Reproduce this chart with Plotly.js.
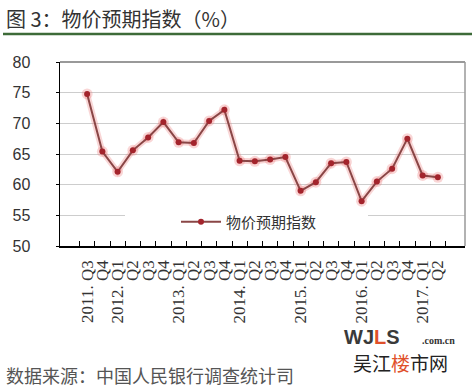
<!DOCTYPE html>
<html>
<head>
<meta charset="utf-8">
<script src="https://cdn.plot.ly/plotly-3.0.1.min.js"></script>
<style>
html,body{margin:0;padding:0;background:#fff;}
#chart{width:472px;height:388px;}
</style>
</head>
<body>
<div id="chart"></div>
<script>
// ---- data ----
const periods = ["2011Q3","2011Q4","2012Q1","2012Q2","2012Q3","2012Q4","2013Q1","2013Q2","2013Q3","2013Q4",
                 "2014Q1","2014Q2","2014Q3","2014Q4","2015Q1","2015Q2","2015Q3","2015Q4","2016Q1","2016Q2",
                 "2016Q3","2016Q4","2017Q1","2017Q2"];
const tickLabels = ["2011. Q3","Q4","2012. Q1","Q2","Q3","Q4","2013. Q1","Q2","Q3","Q4",
                    "2014. Q1","Q2","Q3","Q4","2015. Q1","Q2","Q3","Q4","2016. Q1","Q2",
                    "Q3","Q4","2017. Q1","Q2"];
const priceExpectation = [74.8,65.4,62.1,65.6,67.7,70.2,66.9,66.8,70.4,72.2,
                          63.9,63.8,64.1,64.5,59.0,60.4,63.5,63.7,57.3,60.5,
                          62.6,67.5,61.5,61.2];
const seriesName = "物价预期指数";
const titleText = "图 3：物价预期指数（%）";
const sourceText = "数据来源：中国人民银行调查统计司";

// ---- layout helpers (pixel -> paper) ----
const M = {l:60, r:7, t:62, b:142};
const W = 472, H = 388;
const PW = W - M.l - M.r, PH = H - M.t - M.b;
const px = x => (x - M.l) / PW;
const py = y => (H - M.b - y) / PH;

const glow = {
  x: periods, y: priceExpectation, type: 'scatter', mode: 'lines+markers',
  line: {color: 'rgba(235,120,120,0.30)', width: 6},
  marker: {color: 'rgba(235,120,120,0.30)', size: 11},
  showlegend: false, hoverinfo: 'skip'
};
const main = {
  x: periods, y: priceExpectation, type: 'scatter', mode: 'lines+markers',
  name: seriesName,
  line: {color: '#8a4646', width: 2},
  marker: {color: '#a3242c', size: 6}
};

const layout = {
  width: W, height: H,
  margin: M,
  paper_bgcolor: '#fff', plot_bgcolor: '#fff',
  showlegend: true,
  legend: {
    x: px(176), xanchor: 'left', y: py(222), yanchor: 'middle',
    bgcolor: 'rgba(0,0,0,0)', borderwidth: 0, itemwidth: 40,
    font: {family: '"Noto Sans CJK SC", sans-serif', size: 15, color: '#333'}
  },
  xaxis: {
    type: 'category',
    tickmode: 'array', tickvals: periods, ticktext: tickLabels,
    tickson: 'boundaries',
    ticks: 'inside', ticklen: 5, tickcolor: '#000', tickwidth: 1,
    showline: true, linecolor: '#000', linewidth: 1.5,
    showgrid: false, zeroline: false,
    tickangle: -90,
    tickfont: {family: '"Liberation Serif", serif', size: 17, color: '#333'},
    ticklabelstandoff: 6,
    fixedrange: true
  },
  yaxis: {
    range: [50, 80], dtick: 5, tick0: 50,
    ticks: 'outside', ticklen: 3, tickcolor: '#000',
    showline: true, linecolor: '#000', linewidth: 1.5,
    showgrid: true, gridcolor: '#cdcdcd', gridwidth: 1,
    zeroline: false,
    tickfont: {family: '"Liberation Sans", Arial, sans-serif', size: 16, color: '#333'},
    ticklabelstandoff: 22,
    fixedrange: true
  },
  shapes: [
    {type: 'rect', xref: 'paper', yref: 'paper', x0: px(125), x1: px(368), y0: py(232), y1: py(211),
     fillcolor: '#fff', line: {width: 0}, layer: 'above'},
    {type: 'line', xref: 'paper', yref: 'paper', x0: 0, x1: 1, y0: 1, y1: 1,
     line: {color: '#777', width: 1.5}},
    {type: 'line', xref: 'paper', yref: 'paper', x0: 1, x1: 1, y0: 0, y1: 1,
     line: {color: '#999', width: 1.5}},
    {type: 'line', xref: 'paper', yref: 'paper', x0: px(3), x1: px(472), y0: py(34), y1: py(34),
     line: {color: '#3d6b38', width: 2.5}}
  ],
  annotations: [
    {text: titleText, xref: 'paper', yref: 'paper', x: px(4), y: py(18), xanchor: 'left', yanchor: 'middle',
     showarrow: false, font: {family: '"Noto Sans CJK SC", sans-serif', size: 20, color: '#333'}},
    {text: sourceText, xref: 'paper', yref: 'paper', x: px(4), y: py(375), xanchor: 'left', yanchor: 'middle',
     showarrow: false, font: {family: '"Noto Sans CJK SC", sans-serif', size: 18, color: '#555'}},
    {text: '<b>WJ<span style="color:#e0502a">L</span>S</b>', xref: 'paper', yref: 'paper', x: px(342), y: py(337),
     xanchor: 'left', yanchor: 'middle', showarrow: false,
     font: {family: '"Liberation Sans", Arial, sans-serif', size: 20, color: '#3a3a3a'}},
    {text: '<b>.com.cn</b>', xref: 'paper', yref: 'paper', x: px(420), y: py(340),
     xanchor: 'left', yanchor: 'middle', showarrow: false,
     font: {family: '"Liberation Serif", serif', size: 10, color: '#333'}},
    {text: '吴江<span style="color:#e0502a">楼</span>市网', xref: 'paper', yref: 'paper', x: px(400), y: py(362),
     xanchor: 'center', yanchor: 'middle', showarrow: false,
     font: {family: '"Noto Sans CJK SC", sans-serif', size: 19, color: '#222'}}
  ]
};

Plotly.newPlot('chart', [glow, main], layout, {displayModeBar: false, staticPlot: true});
</script>
</body>
</html>
